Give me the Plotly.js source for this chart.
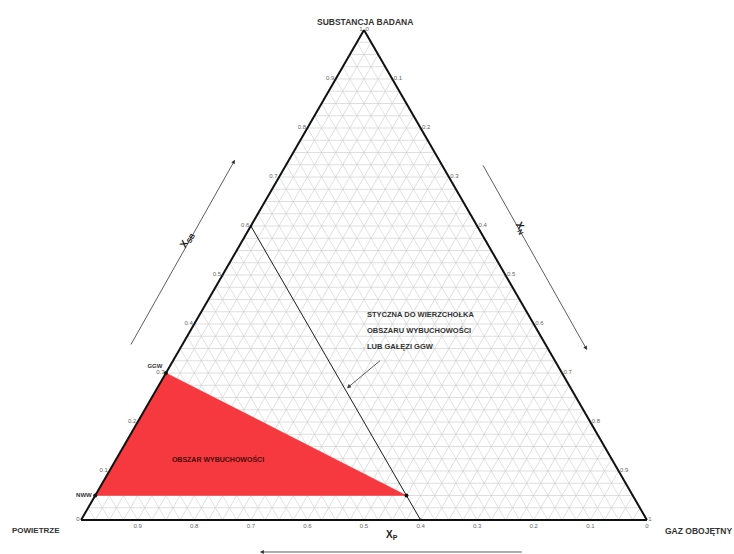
<!DOCTYPE html>
<html>
<head>
<meta charset="utf-8">
<script src="https://cdn.plot.ly/plotly-3.0.1.min.js"></script>
<style>html,body{margin:0;padding:0;background:#fff;}#chart{width:734px;height:554px;}</style>
</head>
<body>
<div id="chart"></div>
<script>
// ---- data ----
// explosive region (OBSZAR WYBUCHOWOŚCI): X_SB (a), X_P (b), X_N (c)
const regionSB = [0.30, 0.05, 0.05, 0.30];
const regionP  = [0.70, 0.95, 0.40, 0.70];
const regionN  = [0.00, 0.00, 0.55, 0.00];
// tangent line (STYCZNA) at X_P = 0.4
const tangentSB = [0.6, 0.0];
const tangentP  = [0.4, 0.4];
const tangentN  = [0.0, 0.6];
// marked points
const pointNames = ['GGW', 'NWW'];
const pointSB = [0.30, 0.05];
const pointP  = [0.70, 0.95];
const pointN  = [0.00, 0.00];
const tipSB = [0.05], tipP = [0.40], tipN = [0.55];
// region label position
const regionLabel = ['OBSZAR WYBUCHOWOŚCI'];
const regionLabelSB = [0.122], regionLabelP = [0.697], regionLabelN = [0.181];
// tick labels
const tickVals = [0, 0.1, 0.2, 0.3, 0.4, 0.5, 0.6, 0.7, 0.8, 0.9, 1];
const tickLabels = ['0', '0.1', '0.2', '0.3', '0.4', '0.5', '0.6', '0.7', '0.8', '0.9', '1'];
const bTickLabels = ['0', '0.1', '0.2', '0.3', '0.4', '0.5', '0.6', '0.7', '0.8', '0.9', ''];
const tangentText = ['STYCZNA DO WIERZCHOŁKA', 'OBSZARU WYBUCHOWOŚCI', 'LUB GAŁĘZI GGW'];
const vertexNames = ['SUBSTANCJA BADANA', 'POWIETRZE', 'GAZ OBOJĘTNY'];

// grid at 0.025 steps; labels only at tenths
function gridTicks(labels) {
  const vals = [], text = [];
  for (let i = 0; i <= 40; i++) {
    const v = Math.round(i * 0.025 * 1000) / 1000;
    vals.push(v);
    const k = tickVals.indexOf(v);
    text.push(k >= 0 ? labels[k] : '');
  }
  return {vals, text};
}
const ga = gridTicks(tickLabels), gb = gridTicks(bTickLabels), gc = gridTicks(tickLabels);

const FONT = 'Liberation Sans, Arial, sans-serif';
function axis(g) {
  return {
    tickmode: 'array', tickvals: g.vals, ticktext: g.text,
    ticks: '', tickfont: {family: FONT, size: 6, color: '#666'},
    showline: true, linecolor: '#111', linewidth: 2,
    showgrid: true, gridcolor: '#cfcfcf', gridwidth: 0.6,
    title: {text: ''}
  };
}

const traces = [
  {type: 'scatterternary', mode: 'lines', a: regionSB, b: regionP, c: regionN,
   fill: 'toself', fillcolor: '#f5393e', line: {color: '#f5393e', width: 0.5},
   hoverinfo: 'skip', showlegend: false},
  {type: 'scatterternary', mode: 'lines+markers', a: tangentSB, b: tangentP, c: tangentN,
   line: {color: '#222', width: 1}, marker: {color: '#111', size: 3}, showlegend: false},
  {type: 'scatterternary', mode: 'markers+text', a: pointSB, b: pointP, c: pointN,
   text: pointNames, textposition: ['top left', 'middle left'],
   textfont: {family: FONT, size: 6, color: '#333', weight: 'bold'},
   marker: {color: '#111', size: 4}, showlegend: false, cliponaxis: false},
  {type: 'scatterternary', mode: 'markers', a: tipSB, b: tipP, c: tipN,
   marker: {color: '#111', size: 4}, showlegend: false},
  {type: 'scatterternary', mode: 'text', a: regionLabelSB, b: regionLabelP, c: regionLabelN,
   text: regionLabel, textfont: {family: FONT, size: 7, color: '#4a0a0a', weight: 'bold'},
   showlegend: false}
];

const pf = {family: FONT, size: 7.5, color: '#333', weight: 'bold'};
const arrowStyle = {xref: 'paper', yref: 'paper', text: ' ', showarrow: true,
  arrowhead: 2, arrowsize: 1, arrowwidth: 0.8, arrowcolor: '#333', standoff: 0};
const annotations = [];
tangentText.forEach((t, i) => annotations.push({
  xref: 'paper', yref: 'paper', x: 0.502, y: 0.419 - i * 0.032, xanchor: 'left', yanchor: 'middle',
  text: t, showarrow: false, font: pf
}));
annotations.push(
  Object.assign({x: 0.470, y: 0.269, ax: 36, ay: -30}, arrowStyle),
  Object.assign({x: 0.272, y: 0.735, ax: -107, ay: 190}, arrowStyle),
  Object.assign({x: 0.894, y: 0.347, ax: -107, ay: -190}, arrowStyle),
  Object.assign({x: 0.316, y: -0.0653, ax: 265, ay: 0}, arrowStyle),
  {xref: 'paper', yref: 'paper', x: 0.166, y: 0.571, text: 'X<sub>SB</sub>', showarrow: false,
   textangle: -60, font: {family: FONT, size: 10, color: '#222', weight: 'bold'}},
  {xref: 'paper', yref: 'paper', x: 0.797, y: 0.596, text: 'X<sub>N</sub>', showarrow: false,
   textangle: 60, font: {family: FONT, size: 10, color: '#222', weight: 'bold'}},
  {xref: 'paper', yref: 'paper', x: 0.549, y: -0.047, text: 'X<sub>P</sub>', showarrow: false,
   font: {family: FONT, size: 10, color: '#222', weight: 'bold'}},
  {xref: 'paper', yref: 'paper', x: 0.502, y: 1.031, text: vertexNames[0], showarrow: false,
   font: {family: FONT, size: 8.5, color: '#333', weight: 'bold'}},
  {xref: 'paper', yref: 'paper', x: -0.08, y: -0.035, xanchor: 'center', text: vertexNames[1], showarrow: false,
   font: {family: FONT, size: 8, color: '#333', weight: 'bold'}},
  {xref: 'paper', yref: 'paper', x: 1.029, y: -0.037, xanchor: 'left', text: vertexNames[2], showarrow: false,
   font: {family: FONT, size: 8.5, color: '#333', weight: 'bold'}}
);

const layout = {
  width: 734, height: 554,
  margin: {l: 81, r: 87, t: 30, b: 34},
  paper_bgcolor: '#fff',
  showlegend: false,
  ternary: {
    sum: 1, bgcolor: '#fff',
    aaxis: axis(ga), baxis: axis(gb), caxis: axis(gc)
  },
  annotations: annotations
};

Plotly.newPlot('chart', traces, layout, {displayModeBar: false, staticPlot: true});
</script>
</body>
</html>
